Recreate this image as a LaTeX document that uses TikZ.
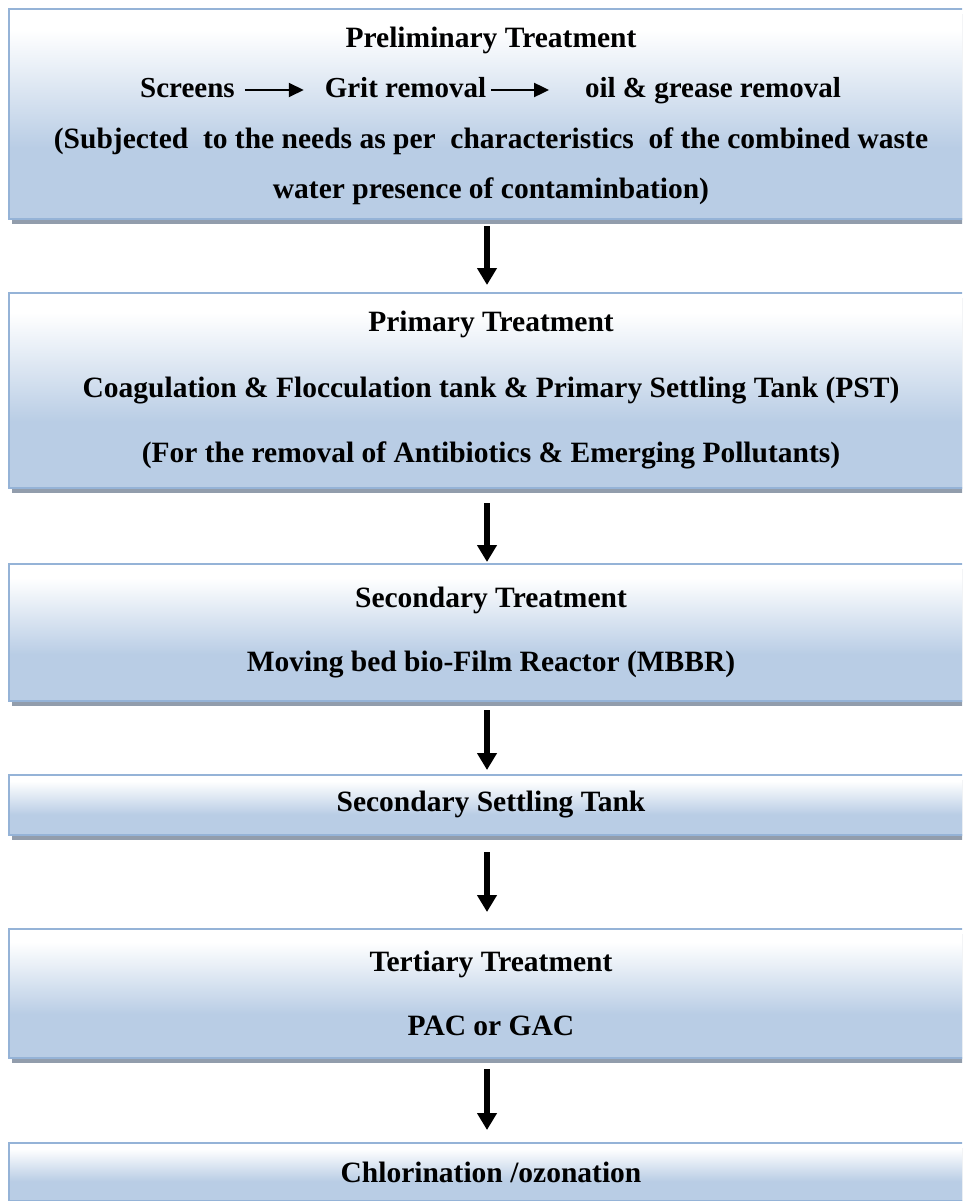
\documentclass[tikz,border=0pt]{standalone}
\usepackage{fontspec}
\setmainfont{Liberation Serif}
\usetikzlibrary{positioning, arrows.meta, shadows}
\definecolor{stageblue}{RGB}{185,205,229}
\definecolor{stageborder}{RGB}{149,179,215}
\definecolor{stageshadow}{RGB}{146,157,172}
\pgfdeclareverticalshading{stageshade}{100bp}{color(0bp)=(stageblue); color(25bp)=(stageblue); color(42bp)=(stageblue); color(70bp)=(white); color(100bp)=(white)}

\begin{document}
\begin{tikzpicture}[
                    x=1pt, y=-1pt,
                    stage/.style={rectangle, draw=stageborder, line width=2.5pt, shading=stageshade, minimum width=964pt, inner sep=0pt, outer sep=0pt, align=center, drop shadow={shadow xshift=3pt, shadow yshift=-5pt, fill=stageshadow, opacity=1}, font=\bfseries\fontsize{29.5pt}{65.5pt}\selectfont},
                    rowtext/.style={inner sep=0pt, outer sep=0pt, font=\bfseries\fontsize{29pt}{35pt}\selectfont},
                    flow/.style={-{Triangle[width=19pt,length=17pt]}, line width=6pt},
                    subflow/.style={-{Triangle[width=14pt,length=15pt]}, line width=2pt}
                ]
                    \path [use as bounding box, clip] (0,0) rectangle (962,1201);

                    \node [stage, minimum height=210pt, font=\bfseries\fontsize{29.5pt}{50.5pt}\selectfont] (prelim) at (491,114) {\rule{0pt}{24pt}Preliminary Treatment\\[50.5pt](Subjected~ to the needs as per~ characteristics~ of the combined waste\\water presence of contaminbation)};
                    \node [stage, minimum height=195pt, below=74pt of prelim] (primary) {Primary Treatment\\Coagulation \& Flocculation tank \& Primary Settling Tank (PST)\\(For the removal of Antibiotics \& Emerging Pollutants)};
                    \node [stage, minimum height=137pt, below=76pt of primary, font=\bfseries\fontsize{29.5pt}{64pt}\selectfont] (secondary) {Secondary Treatment\\Moving bed bio-Film Reactor (MBBR)};
                    \node [stage, minimum height=60pt, below=74pt of secondary] (settling) {Secondary Settling Tank};
                    \node [stage, minimum height=129pt, below=94pt of settling, font=\bfseries\fontsize{29.5pt}{64pt}\selectfont] (tertiary) {Tertiary Treatment\\PAC or GAC};
                    \node [stage, minimum height=58pt, below=85pt of tertiary] (chlorine) {Chlorination /ozonation};

                    % Row inside the preliminary box
                    \node [rowtext, anchor=base] (screens) at (187.5,98) {Screens};
                    \node [rowtext, base right=90pt of screens] (grit) {Grit removal};
                    \node [rowtext, base right=99pt of grit] (oil) {oil \& grease removal};
                    \draw [subflow, shorten <=10pt, shorten >=21pt] ([yshift=8pt]screens.base east) -- ([yshift=8pt]grit.base west);
                    \draw [subflow, shorten <=5pt, shorten >=36pt] ([yshift=8pt]grit.base east) -- ([yshift=8pt]oil.base west);

                    % Arrows between stages
                    \draw [flow, shorten <=7pt, shorten >=8pt] ([xshift=-4pt]prelim.south) -- ([xshift=-4pt]primary.north);
                    \draw [flow, shorten <=15pt, shorten >=2pt] ([xshift=-4pt]primary.south) -- ([xshift=-4pt]secondary.north);
                    \draw [flow, shorten <=9pt, shorten >=5pt] ([xshift=-4pt]secondary.south) -- ([xshift=-4pt]settling.north);
                    \draw [flow, shorten <=17pt, shorten >=17pt] ([xshift=-4pt]settling.south) -- ([xshift=-4pt]tertiary.north);
                    \draw [flow, shorten <=11pt, shorten >=13pt] ([xshift=-4pt]tertiary.south) -- ([xshift=-4pt]chlorine.north);
                \end{tikzpicture}
\end{document}
